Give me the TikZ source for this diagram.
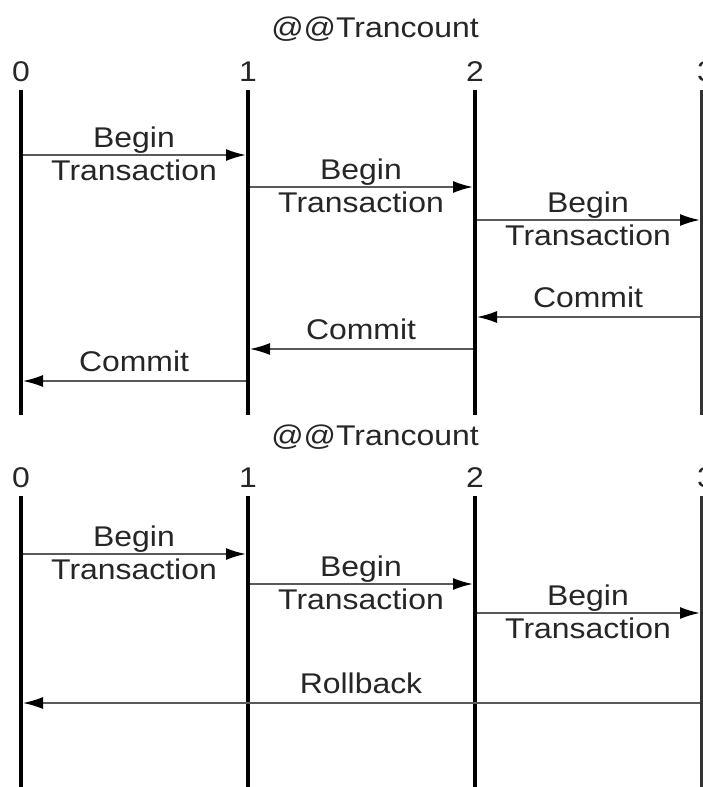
\documentclass[tikz,border=0pt]{standalone}
\usepackage{fontspec}
\newfontfamily\lab[FakeStretch=1.12]{Liberation Sans}
\usetikzlibrary{arrows.meta}
\begin{document}
\begin{tikzpicture}[x=1pt,y=-1pt,
  lane/.style={line width=4pt,black},
  lanethin/.style={line width=4pt,black!80},
  msg/.style={draw=black!65,line width=2pt,-{Latex[length=20pt,width=12pt,black]}},
  msgthin/.style={draw=black!65,line width=1.5pt,-{Latex[length=20pt,width=12pt,black]}},
  lbl/.style={font=\lab\fontsize{28.5}{30}\selectfont,text=black!85,inner sep=0pt,anchor=base}]
\useasboundingbox (0,0) rectangle (702,787);
\fill[white] (0,0) rectangle (702,787);
% ---------- top diagram ----------
\node[lbl] (title1) at (375,37) {@@Trancount};
\node[lbl] (n0a) at (21,81) {0};
\node[lbl] (n1a) at (248,81) {1};
\node[lbl] (n2a) at (475,81) {2};
\node[lbl] (n3a) at (706,81) {3};
\coordinate (L0t) at (21,90);  \coordinate (L0b) at (21,415);
\coordinate (L1t) at (248,90); \coordinate (L1b) at (248,415);
\coordinate (L2t) at (475,90); \coordinate (L2b) at (475,415);
\coordinate (L3t) at (702,90); \coordinate (L3b) at (702,415);
\draw[lane] (L0t) -- (L0b);
\draw[lane] (L1t) -- (L1b);
\draw[lane] (L2t) -- (L2b);
\draw[lanethin] (L3t) -- (L3b);
% begin arrows
\coordinate (a1s) at (23,155);  \coordinate (a1e) at (246,155);
\coordinate (a2s) at (250,187); \coordinate (a2e) at (473,187);
\coordinate (a3s) at (477,220); \coordinate (a3e) at (700,220);
\draw[msg] (a1s) -- (a1e);
\draw[msg] (a2s) -- (a2e);
\draw[msg] (a3s) -- (a3e);
\node[lbl] (b1) at (134,147) {Begin};
\node[lbl] (t1) at (134,180) {Transaction};
\node[lbl] (b2) at (361,179) {Begin};
\node[lbl] (t2) at (361,212) {Transaction};
\node[lbl] (b3) at (588,212) {Begin};
\node[lbl] (t3) at (588,245) {Transaction};
% commit arrows
\coordinate (c1s) at (700,317); \coordinate (c1e) at (477,317);
\coordinate (c2s) at (473,349); \coordinate (c2e) at (250,349);
\coordinate (c3s) at (246,381); \coordinate (c3e) at (23,381);
\draw[msgthin] (c1s) -- (c1e);
\draw[msgthin] (c2s) -- (c2e);
\draw[msgthin] (c3s) -- (c3e);
\node[lbl] (m1) at (588,307) {Commit};
\node[lbl] (m2) at (361,339) {Commit};
\node[lbl] (m3) at (134,371) {Commit};
% ---------- bottom diagram ----------
\node[lbl] (title2) at (375,445) {@@Trancount};
\node[lbl] (n0b) at (21,487) {0};
\node[lbl] (n1b) at (248,487) {1};
\node[lbl] (n2b) at (475,487) {2};
\node[lbl] (n3b) at (706,487) {3};
\coordinate (M0t) at (21,496);  \coordinate (M0b) at (21,787);
\coordinate (M1t) at (248,496); \coordinate (M1b) at (248,787);
\coordinate (M2t) at (475,496); \coordinate (M2b) at (475,787);
\coordinate (M3t) at (702,496); \coordinate (M3b) at (702,787);
\draw[lane] (M0t) -- (M0b);
\draw[lane] (M1t) -- (M1b);
\draw[lane] (M2t) -- (M2b);
\draw[lanethin] (M3t) -- (M3b);
\coordinate (d1s) at (23,554);  \coordinate (d1e) at (246,554);
\coordinate (d2s) at (250,584); \coordinate (d2e) at (473,584);
\coordinate (d3s) at (477,613); \coordinate (d3e) at (700,613);
\draw[msg] (d1s) -- (d1e);
\draw[msg] (d2s) -- (d2e);
\draw[msg] (d3s) -- (d3e);
\node[lbl] (e1) at (134,546) {Begin};
\node[lbl] (f1) at (134,579) {Transaction};
\node[lbl] (e2) at (361,576) {Begin};
\node[lbl] (f2) at (361,609) {Transaction};
\node[lbl] (e3) at (588,605) {Begin};
\node[lbl] (f3) at (588,638) {Transaction};
\coordinate (rs) at (700,703); \coordinate (re) at (23,703);
\draw[msgthin] (rs) -- (re);
\node[lbl] (rb) at (361,693) {Rollback};
\end{tikzpicture}
\end{document}
